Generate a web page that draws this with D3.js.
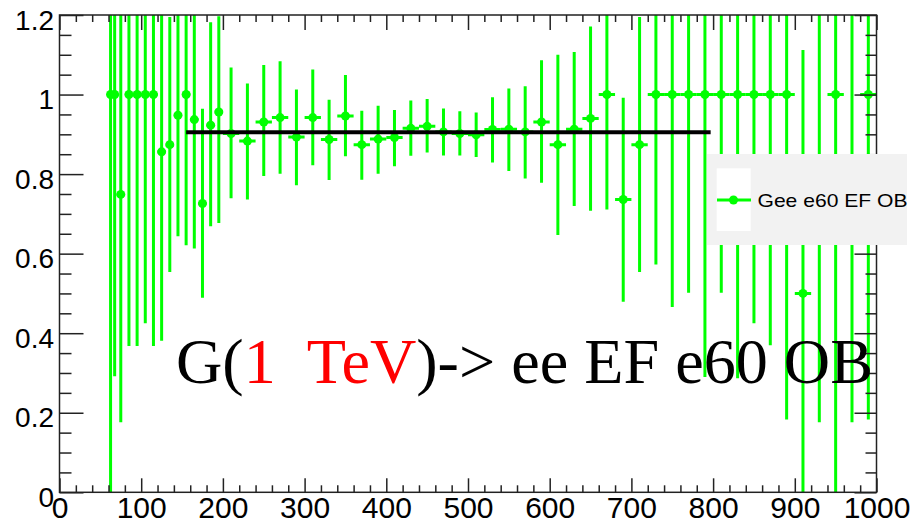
<!DOCTYPE html>
<html>
<head>
<meta charset="utf-8">
<script src="https://cdn.jsdelivr.net/npm/d3@7"></script>
<style>
  body { margin: 0; background: #fff; }
  svg { display: block; }
</style>
</head>
<body>
<div id="chart"></div>
<script>
// bin edges (GeV)
const binEdges = [60, 65, 70, 80, 90, 100, 110, 120, 130, 140, 150, 160, 170, 180, 190, 200,
    220, 240, 260, 280, 300, 320, 340, 360, 380, 400, 420, 440, 460, 480, 500,
    520, 540, 560, 580, 600, 620, 640, 660, 680, 700, 720, 740, 760, 780, 800,
    820, 840, 860, 880, 900, 920, 940, 960, 980, 1000];

// efficiency per bin (null = marker off scale)
const eff = [1.0, 1.0, 0.749, 1.0, 1.0, 1.0, 1.0, 0.856, 0.874, 0.948, 1.0, 0.937, 0.726, 0.923, 0.956,
    0.902, 0.883, 0.931, 0.942, 0.893, 0.942, 0.887, 0.946, 0.874, 0.888, 0.892, 0.915, 0.920, 0.906,
    0.902, 0.899, 0.912, 0.913, 0.906, 0.931, 0.874, 0.913, 0.940,
    1.0, 0.736, 0.874, 1.0, 1.0, 1.0, 1.0, 1.0, 1.0, 1.0, 1.0, 1.0, 0.5, null, 1.0, null, 1.0];

// lower / upper end of the error bars
const effLow = [0, 0.292, 0.176, 0.368, 0.368, 0.425, 0.368, 0.381, 0.554, 0.644, 0.621, 0.613, 0.489, 0.669, 0.677,
    0.739, 0.736, 0.795, 0.801, 0.772, 0.822, 0.785, 0.845, 0.786, 0.801, 0.820, 0.846, 0.854, 0.847,
    0.847, 0.843, 0.829, 0.808, 0.789, 0.778, 0.647, 0.720, 0.708,
    0.711, 0.479, 0.554, 0.573, 0.466, 0.502, 0.290, 0.502, 0.287, 0.425, 0.370, 0.183, 0, 0.176, 0, 0.176, 0.183];

const effHigh = [1.3, 1.3, 1.3, 1.3, 1.3, 1.3, 1.3, 1.3, 1.195, 1.3, 1.3, 1.3, 0.964, 1.182, 1.197,
    1.068, 1.028, 1.074, 1.084, 1.013, 1.063, 0.987, 1.049, 0.959, 0.972, 0.961, 0.985, 0.989, 0.965,
    0.958, 0.955, 0.993, 1.015, 1.021, 1.086, 1.100, 1.107, 1.171,
    1.3, 0.992, 1.195, 1.3, 1.3, 1.3, 1.3, 1.3, 1.3, 1.3, 1.3, 1.3, 1.112, 1.3, 1.3, 1.3, 1.3];

// constant fit
const fitRange = [155, 797];
const fitValue = 0.905;

const xMajor = [0, 100, 200, 300, 400, 500, 600, 700, 800, 900, 1000];
const xMinor = [20, 40, 60, 80, 120, 140, 160, 180, 220, 240, 260, 280, 320, 340, 360, 380,
    420, 440, 460, 480, 520, 540, 560, 580, 620, 640, 660, 680, 720, 740, 760, 780,
    820, 840, 860, 880, 920, 940, 960, 980];
const yMajor = [0, 0.2, 0.4, 0.6, 0.8, 1, 1.2];
const yMinor = [0.05, 0.1, 0.15, 0.25, 0.3, 0.35, 0.45, 0.5, 0.55, 0.65, 0.7, 0.75,
    0.85, 0.9, 0.95, 1.05, 1.1, 1.15];

const legendLabel = 'Gee e60 EF OB';

const green = '#00ff00';
const W = 910, H = 524;
const frame = {left: 59.5, right: 876.5, top: 15, bottom: 492.3};

const bins = eff.map((v, i) => ({
    lo: binEdges[i], hi: binEdges[i + 1],
    c: (binEdges[i] + binEdges[i + 1]) / 2,
    y: v, yl: effLow[i], yh: effHigh[i]
}));

const svg = d3.select('#chart').append('svg')
    .attr('width', W).attr('height', H);

const x = d3.scaleLinear().domain([0, 1000]).range([frame.left, frame.right]);
const y = d3.scaleLinear().domain([0, 1.2]).range([frame.bottom, frame.top]);

svg.append('clipPath').attr('id', 'frameclip')
    .append('rect')
    .attr('x', frame.left).attr('y', frame.top)
    .attr('width', frame.right - frame.left).attr('height', frame.bottom - frame.top);

const plot = svg.append('g').attr('clip-path', 'url(#frameclip)');

// vertical error bars
plot.selectAll('.ey').data(bins).enter()
    .append('line')
    .attr('class', 'ey')
    .attr('x1', d => x(d.c)).attr('x2', d => x(d.c))
    .attr('y1', d => y(d.yl)).attr('y2', d => y(d.yh))
    .attr('stroke', green).attr('stroke-width', 3);

// horizontal (bin width) bars
plot.selectAll('.ex').data(bins.filter(d => d.y !== null)).enter()
    .append('line')
    .attr('class', 'ex')
    .attr('x1', d => x(d.lo)).attr('x2', d => x(d.hi))
    .attr('y1', d => y(d.y)).attr('y2', d => y(d.y))
    .attr('stroke', green).attr('stroke-width', 3);

plot.selectAll('.pt').data(bins.filter(d => d.y !== null)).enter()
    .append('circle')
    .attr('class', 'pt')
    .attr('cx', d => x(d.c)).attr('cy', d => y(d.y))
    .attr('r', 4.5)
    .attr('fill', green);

// fit line
plot.append('line')
    .attr('x1', x(fitRange[0])).attr('x2', x(fitRange[1]))
    .attr('y1', y(fitValue)).attr('y2', y(fitValue))
    .attr('stroke', '#000').attr('stroke-width', 4);

// frame
svg.append('rect')
    .attr('x', frame.left).attr('y', frame.top)
    .attr('width', frame.right - frame.left).attr('height', frame.bottom - frame.top)
    .attr('fill', 'none').attr('stroke', '#222').attr('stroke-width', 1.5);

function ticks(axis, tr) {
    const g = svg.append('g').attr('transform', tr).call(axis);
    g.select('.domain').remove();
    g.selectAll('.tick line').attr('stroke', '#222').attr('stroke-width', 1.5);
    g.selectAll('.tick text').remove();
    return g;
}

// ticks on all four sides (drawn inward)
ticks(d3.axisTop(x).tickValues(xMajor).tickSize(14), `translate(0,${frame.bottom})`);
ticks(d3.axisTop(x).tickValues(xMinor).tickSize(7), `translate(0,${frame.bottom})`);
ticks(d3.axisBottom(x).tickValues(xMajor).tickSize(15), `translate(0,${frame.top})`);
ticks(d3.axisBottom(x).tickValues(xMinor).tickSize(7), `translate(0,${frame.top})`);
ticks(d3.axisRight(y).tickValues(yMajor).tickSize(24), `translate(${frame.left},0)`);
ticks(d3.axisRight(y).tickValues(yMinor).tickSize(12), `translate(${frame.left},0)`);
ticks(d3.axisLeft(y).tickValues(yMajor).tickSize(22), `translate(${frame.right},0)`);
ticks(d3.axisLeft(y).tickValues(yMinor).tickSize(11), `translate(${frame.right},0)`);

// tick labels
const xl = svg.append('g')
    .attr('transform', `translate(0,${frame.bottom})`)
    .call(d3.axisBottom(x).tickValues(xMajor).tickSize(0).tickPadding(4.5).tickFormat(d => d));
xl.select('.domain').remove();
xl.selectAll('text')
    .attr('font-family', '"Liberation Sans", Arial, Helvetica, sans-serif')
    .attr('font-size', 30).attr('fill', '#000');

const yl = svg.append('g')
    .attr('transform', `translate(${frame.left},0)`)
    .call(d3.axisLeft(y).tickValues(yMajor).tickSize(0).tickPadding(5.5).tickFormat(d => d));
yl.select('.domain').remove();
yl.selectAll('text')
    .attr('dy', '0.5em')
    .attr('font-family', '"Liberation Sans", Arial, Helvetica, sans-serif')
    .attr('font-size', 28).attr('fill', '#000');

// legend
const leg = svg.append('g');
leg.append('rect')
    .attr('x', 707).attr('y', 154).attr('width', 200).attr('height', 91)
    .attr('fill', '#f2f2f2');
leg.append('rect')
    .attr('x', 716.7).attr('y', 168.3).attr('width', 34).attr('height', 62.7)
    .attr('fill', '#fff');
leg.append('line')
    .attr('x1', 717).attr('x2', 751).attr('y1', 200).attr('y2', 200)
    .attr('stroke', green).attr('stroke-width', 3);
leg.append('circle')
    .attr('cx', 733.5).attr('cy', 200).attr('r', 4.5).attr('fill', green);
leg.append('text')
    .attr('x', 757.5).attr('y', 206.5)
    .attr('textLength', 150).attr('lengthAdjust', 'spacingAndGlyphs')
    .attr('font-family', '"Liberation Sans", Arial, Helvetica, sans-serif')
    .attr('font-size', 19).attr('fill', '#000')
    .text(legendLabel);

// title inside the frame
const t = svg.append('text')
    .attr('x', 176).attr('y', 383)
    .attr('textLength', 697).attr('lengthAdjust', 'spacingAndGlyphs')
    .attr('font-family', '"Liberation Serif", "Times New Roman", serif')
    .attr('font-size', 64)
    .style('white-space', 'pre');
t.append('tspan').attr('fill', '#000').text('G(');
t.append('tspan').attr('fill', '#ff0000').text('1  TeV');
t.append('tspan').attr('fill', '#000').text(')-> ee EF e60 OB');
</script>
</body>
</html>
